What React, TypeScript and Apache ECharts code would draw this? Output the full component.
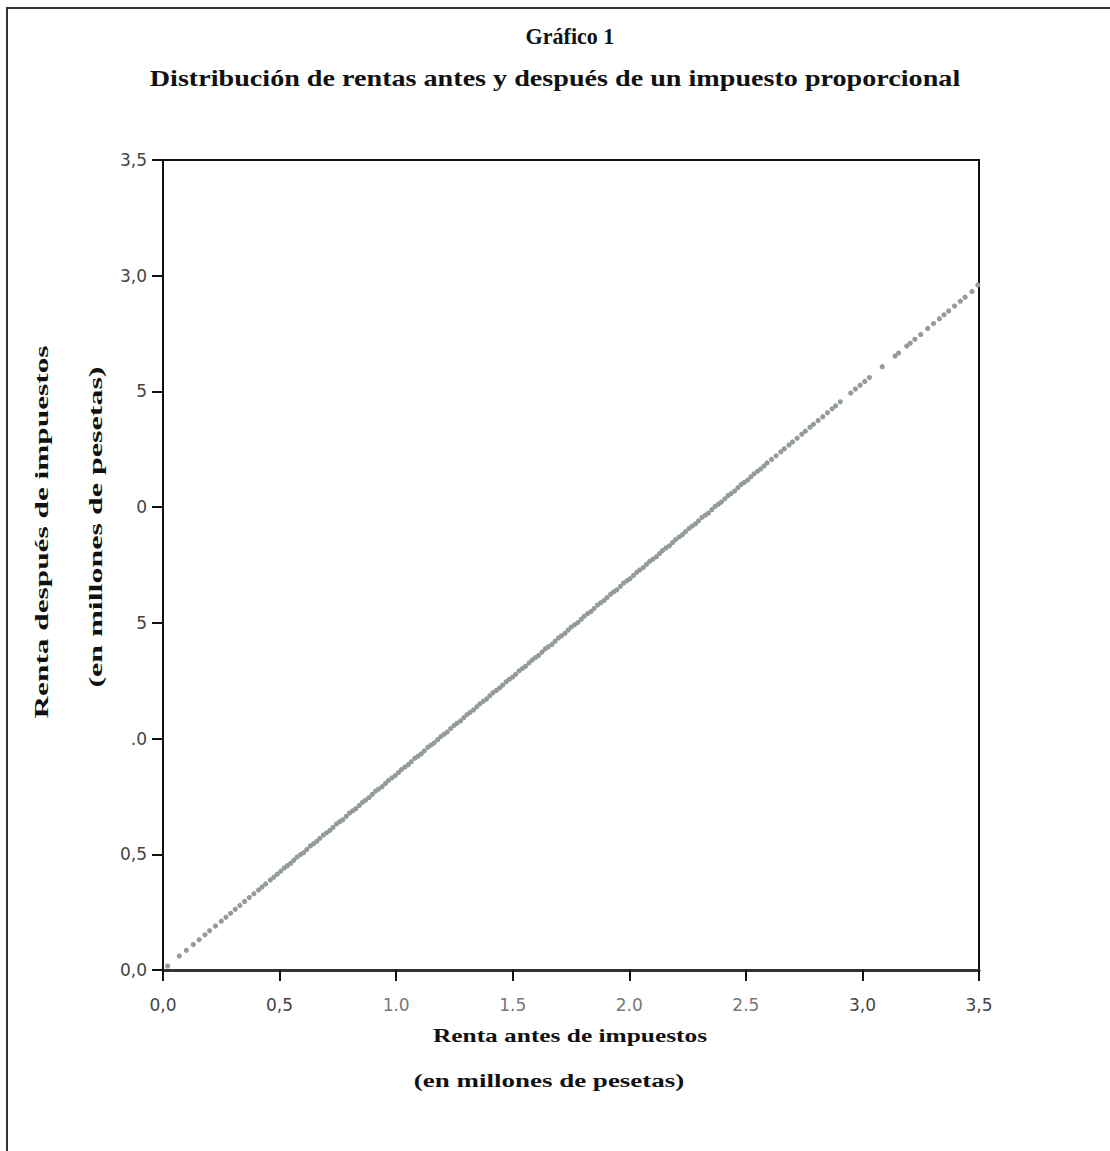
import React, { useEffect, useRef } from "react";
import * as echarts from "echarts";

const titleText = "Gráfico 1";
const subtitleText = "Distribución de rentas antes y después de un impuesto proporcional";
const xNameLines = ["Renta antes de impuestos", "(en millones de pesetas)"];
const yNameLines = ["Renta después de impuestos", "(en millones de pesetas)"];

const xTickLabels = ["0,0", "0,5", "1.0", "1.5", "2.0", "2.5", "3,0", "3,5"];
const yTickLabels = ["0,0", "0,5", ".0", "5", "0", "5", "3,0", "3,5"];

// [renta antes, renta después] — low incomes
const lowIncome: number[][] = [
  [0.02, 0.017], [0.07, 0.06], [0.1, 0.085], [0.13, 0.11], [0.155, 0.131],
  [0.18, 0.152], [0.2, 0.17], [0.225, 0.19], [0.25, 0.211], [0.27, 0.228],
  [0.29, 0.245], [0.31, 0.262], [0.33, 0.279], [0.35, 0.296], [0.37, 0.313],
  [0.39, 0.33], [0.41, 0.346], [0.425, 0.359], [0.44, 0.372], [0.46, 0.389],
  [0.475, 0.401], [0.49, 0.414],
];

// middle incomes (dense band)
const middleIncome: number[][] = [
  [0.505, 0.427], [0.52, 0.441], [0.534, 0.451], [0.548, 0.461], [0.561, 0.474],
  [0.575, 0.488], [0.59, 0.499], [0.603, 0.507], [0.617, 0.521], [0.632, 0.536],
  [0.646, 0.546], [0.66, 0.556], [0.673, 0.569], [0.688, 0.583], [0.702, 0.593],
  [0.716, 0.603], [0.729, 0.616], [0.744, 0.631], [0.758, 0.641], [0.771, 0.649],
  [0.786, 0.664], [0.8, 0.678], [0.814, 0.688], [0.827, 0.697], [0.842, 0.711],
  [0.856, 0.725], [0.869, 0.734], [0.884, 0.745], [0.898, 0.759], [0.912, 0.773],
  [0.925, 0.782], [0.94, 0.792], [0.954, 0.806], [0.967, 0.819], [0.982, 0.83],
  [0.996, 0.84], [1.01, 0.853], [1.023, 0.866], [1.038, 0.877], [1.052, 0.887],
  [1.065, 0.9], [1.08, 0.915], [1.094, 0.924], [1.108, 0.934], [1.121, 0.947],
  [1.136, 0.962], [1.15, 0.972], [1.163, 0.981], [1.178, 0.995], [1.192, 1.009],
  [1.206, 1.019], [1.219, 1.028], [1.234, 1.043], [1.248, 1.057], [1.261, 1.066],
  [1.276, 1.076], [1.29, 1.09], [1.304, 1.104], [1.317, 1.113], [1.332, 1.124],
  [1.346, 1.137], [1.359, 1.15], [1.374, 1.161], [1.388, 1.171], [1.402, 1.185],
  [1.415, 1.198], [1.43, 1.208], [1.444, 1.218], [1.457, 1.231], [1.472, 1.246],
  [1.486, 1.256], [1.5, 1.266], [1.513, 1.278], [1.528, 1.293], [1.542, 1.303],
  [1.555, 1.312], [1.57, 1.327], [1.584, 1.34], [1.598, 1.35], [1.611, 1.359],
  [1.626, 1.374], [1.64, 1.388], [1.653, 1.397], [1.668, 1.407], [1.682, 1.421],
  [1.696, 1.435], [1.709, 1.444], [1.724, 1.455], [1.738, 1.469], [1.751, 1.482],
  [1.766, 1.492], [1.78, 1.502], [1.794, 1.516], [1.807, 1.529], [1.822, 1.54],
  [1.836, 1.549], [1.849, 1.562], [1.864, 1.577], [1.878, 1.587], [1.892, 1.597],
  [1.905, 1.61], [1.92, 1.624], [1.934, 1.634], [1.947, 1.643], [1.962, 1.658],
  [1.976, 1.672], [1.99, 1.682], [2.003, 1.691], [2.018, 1.705], [2.032, 1.719],
  [2.045, 1.728], [2.06, 1.739], [2.074, 1.753], [2.088, 1.766], [2.101, 1.775],
  [2.116, 1.786], [2.13, 1.8], [2.143, 1.813], [2.158, 1.824], [2.172, 1.833],
  [2.186, 1.847], [2.199, 1.86], [2.214, 1.871], [2.228, 1.881], [2.241, 1.894],
  [2.256, 1.908], [2.27, 1.918], [2.284, 1.928], [2.297, 1.941], [2.312, 1.956],
  [2.326, 1.965], [2.339, 1.974], [2.354, 1.989], [2.368, 2.003], [2.382, 2.013],
  [2.395, 2.022], [2.41, 2.036], [2.424, 2.05], [2.437, 2.059], [2.452, 2.07],
  [2.466, 2.084], [2.48, 2.098], [2.493, 2.107], [2.508, 2.117], [2.522, 2.131],
  [2.535, 2.144], [2.55, 2.155], [2.564, 2.165], [2.578, 2.178], [2.591, 2.191],
];

// high incomes (sparser, with gaps)
const highIncome: number[][] = [
  [2.61, 2.206], [2.63, 2.222], [2.65, 2.239], [2.665, 2.252], [2.685, 2.269],
  [2.7, 2.282], [2.72, 2.298], [2.74, 2.315], [2.755, 2.328], [2.775, 2.345],
  [2.79, 2.358], [2.81, 2.374], [2.83, 2.391], [2.85, 2.408], [2.87, 2.425],
  [2.885, 2.438], [2.905, 2.455], [2.95, 2.493], [2.97, 2.51], [2.99, 2.527],
  [3.01, 2.543], [3.03, 2.56], [3.085, 2.607], [3.14, 2.653], [3.155, 2.666],
  [3.19, 2.696], [3.205, 2.708], [3.225, 2.725], [3.25, 2.746], [3.28, 2.772],
  [3.305, 2.793], [3.33, 2.814], [3.35, 2.831], [3.37, 2.848], [3.395, 2.869],
  [3.42, 2.89], [3.44, 2.907], [3.47, 2.932], [3.495, 2.96],
];

const W = 1110;
const H = 1151;
const SERIF = "'Liberation Serif', 'DejaVu Serif', serif";
const SANS = "'DejaVu Sans', 'Liberation Sans', sans-serif";
const DOT = "#939d95";

export default function App() {
  const ref = useRef<HTMLDivElement>(null);

  useEffect(() => {
    if (!ref.current) return;
    const chart = echarts.init(ref.current, undefined, { renderer: "svg" });
    const idx = (v: number) => Math.round(v / 0.5);
    const scatter = (data: number[][]) => ({
      type: "scatter",
      data,
      symbol: "circle",
      symbolSize: 5.2,
      itemStyle: { color: DOT, opacity: 1 },
      silent: true,
    });
    const serifText = (
      text: string,
      x: number,
      y: number,
      fontSize: number,
      scaleX: number,
      rotation = 0
    ) => ({
      type: "text",
      x,
      y,
      rotation,
      scaleX,
      scaleY: 1.08,
      silent: true,
      style: {
        text,
        fontFamily: SERIF,
        fontWeight: "bold",
        fontSize,
        fill: "#111",
        align: "center",
        verticalAlign: "middle",
      },
    });
    chart.setOption({
      animation: false,
      backgroundColor: "#ffffff",
      grid: {
        left: 163,
        top: 160,
        width: 816,
        height: 810,
        show: true,
        borderColor: "#111",
        borderWidth: 2,
        backgroundColor: "transparent",
      },
      xAxis: {
        type: "value",
        min: 0,
        max: 3.5,
        interval: 0.5,
        splitLine: { show: false },
        axisLine: { show: true, lineStyle: { color: "#333", width: 3 } },
        axisTick: { show: true, length: 11, lineStyle: { color: "#111", width: 2 } },
        axisLabel: {
          formatter: (v: number) => {
            const i = idx(v);
            const t = xTickLabels[i] ?? "";
            return i >= 2 && i <= 5 ? `{light|${t}}` : `{dark|${t}}`;
          },
          margin: 26,
          fontFamily: SANS,
          fontSize: 17,
          rich: {
            dark: { color: "#444", fontFamily: SANS, fontSize: 17 },
            light: { color: "#777", fontFamily: SANS, fontSize: 17 },
          },
        },
      },
      yAxis: {
        type: "value",
        min: 0,
        max: 3.5,
        interval: 0.5,
        splitLine: { show: false },
        axisLine: { show: true, lineStyle: { color: "#111", width: 2 } },
        axisTick: { show: true, length: 11, lineStyle: { color: "#111", width: 2 } },
        axisLabel: {
          formatter: (v: number) => yTickLabels[idx(v)] ?? "",
          margin: 16,
          fontFamily: SANS,
          fontSize: 17,
          color: "#444",
        },
      },
      series: [scatter(lowIncome), scatter(middleIncome), scatter(highIncome)],
      graphic: [
        {
          type: "rect",
          shape: { x: 7, y: 8, width: 1300, height: 1300 },
          style: { fill: "none", stroke: "#333", lineWidth: 2 },
          silent: true,
        },
        serifText(titleText, 570, 36, 21, 1.05),
        serifText(subtitleText, 555, 78, 21, 1.34),
        serifText(xNameLines[0], 570, 1036, 18, 1.41),
        serifText(xNameLines[1], 549, 1080, 18, 1.5),
        serifText(yNameLines[0], 42, 532, 18, 1.74, Math.PI / 2),
        serifText(yNameLines[1], 95, 527, 18, 1.78, Math.PI / 2),
      ],
    });
    return () => chart.dispose();
  }, []);

  return (
    <div
      ref={ref}
      style={{ position: "fixed", left: 0, top: 0, width: W, height: H, background: "#fff" }}
    />
  );
}
